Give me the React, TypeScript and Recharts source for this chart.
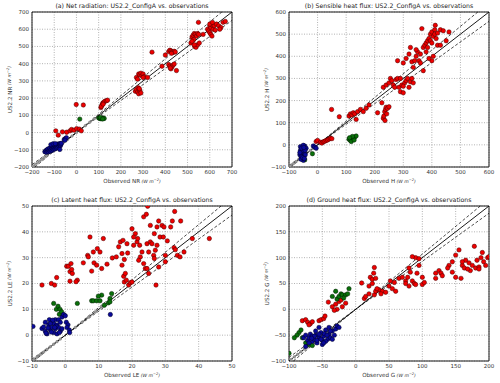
import React from 'react';
import { ScatterChart, Scatter, XAxis, YAxis, CartesianGrid, ReferenceLine, ReferenceArea } from 'recharts';

type P = [number, number];

// ---- ticks ----
const aTicks = [-200, -100, 0, 100, 200, 300, 400, 500, 600, 700];
const bTicks = [-100, 0, 100, 200, 300, 400, 500, 600];
const cTicks = [-10, 0, 10, 20, 30, 40, 50];
const dTicks = [-100, -50, 0, 50, 100, 150, 200];

// ---- (a) Net radiation ----
const aRed: P[] = [
  [-93, 10], [-82, -15], [-63, 4], [-44, 2], [-29, 10], [-22, 18], [-11, 14], [1, 23], [13, 20], [22, 10],
  [-1, 163], [31, 160],
  [110, 145], [115, 160], [118, 170], [122, 175], [128, 182], [135, 185], [140, 188], [112, 152], [120, 165],
  [265, 240], [270, 250], [275, 235], [280, 225], [285, 245], [278, 260], [290, 230], [283, 255],
  [270, 320], [280, 340], [285, 335], [290, 345], [295, 330], [300, 340], [305, 325], [275, 310], [300, 320], [320, 320],
  [340, 467], [385, 385], [400, 450],
  [415, 470], [420, 478], [425, 475], [430, 470], [435, 465], [440, 472], [428, 460], [445, 468],
  [415, 395], [420, 385], [425, 370], [430, 380], [435, 392], [440, 398], [450, 360], [422, 375],
  [515, 520], [520, 555], [525, 565], [530, 575], [535, 570], [540, 560], [545, 575], [550, 570], [528, 540],
  [532, 500], [538, 495], [545, 510], [553, 520], [530, 510], [520, 530],
  [549, 640], [570, 570],
  [590, 600], [595, 590], [600, 620], [605, 610], [610, 625], [615, 600], [600, 580], [605, 570], [610, 560],
  [620, 620], [630, 630], [640, 620], [650, 610], [660, 640], [670, 645], [645, 600], [625, 595], [600, 630], [612, 640],
];
const aGreen: P[] = [
  [-140, -110], [-135, -106], [15, 78],
  [100, 85], [105, 82], [110, 80], [115, 83], [120, 85], [125, 82], [108, 88], [118, 79],
];
const aBlue: P[] = [
  [-142, -112], [-138, -105], [-135, -115], [-132, -100], [-130, -108], [-128, -95], [-125, -112], [-122, -102],
  [-120, -90], [-118, -108], [-115, -98], [-112, -85], [-110, -104], [-108, -92], [-105, -80], [-103, -98],
  [-100, -88], [-98, -75], [-96, -95], [-94, -82], [-92, -70], [-90, -90], [-88, -78], [-86, -68], [-84, -86],
  [-82, -74], [-80, -66], [-78, -80], [-76, -70], [-74, -64], [-72, -76], [-70, -68], [-68, -62], [-115, -70],
  [-105, -65], [-95, -64], [-55, -40], [-50, -35], [-45, -30], [-52, -45], [-75, -98],
];
const aGray: P[] = [
  [-195, -195], [-185, -185], [-175, -175], [-165, -165], [-155, -155], [-145, -145], [-135, -135],
  [-60, -60], [-40, -40], [-20, -20], [0, 0], [20, 20], [40, 40], [60, 60], [80, 80],
];

// ---- (b) Sensible heat flux ----
const bRed: P[] = [
  [-5, 15], [0, 20], [10, 12], [15, 8], [20, 14], [25, 16], [30, 20], [35, 22], [40, 26], [45, 30], [50, 28],
  [49, 160], [76, 127],
  [110, 130], [115, 140], [120, 135], [125, 145], [130, 140], [135, 115], [140, 150], [150, 160], [160, 150],
  [170, 165], [180, 180], [210, 145],
  [230, 120], [232, 130], [235, 150], [238, 160], [240, 170], [245, 165], [250, 172], [242, 140], [236, 110], [225, 190],
  [230, 260], [240, 270], [250, 280], [255, 300], [260, 290], [265, 270], [270, 260], [275, 295], [280, 300],
  [285, 260], [290, 240], [295, 270], [300, 235], [305, 280], [310, 290], [315, 300], [320, 260], [325, 285],
  [330, 300], [335, 280], [300, 265], [290, 300],
  [280, 380], [300, 370], [310, 390], [320, 410], [330, 375], [340, 380], [345, 400], [350, 420], [355, 380],
  [360, 410], [365, 525], [370, 440], [375, 450], [380, 460], [385, 470], [390, 480], [395, 500], [400, 510],
  [405, 490], [410, 520], [412, 540], [415, 480], [420, 450], [395, 470], [380, 420], [385, 440], [400, 380],
  [405, 400], [390, 390], [370, 335], [430, 520], [440, 515], [460, 510], [450, 470], [430, 450], [410, 500],
  [400, 460], [420, 505], [360, 370], [345, 430], [325, 440], [335, 350],
];
const bGreen: P[] = [
  [110, 25], [115, 20], [120, 30], [125, 28], [130, 35], [135, 40], [118, 15], [128, 22], [122, 38], [112, 32],
  [-18, -40], [-45, -68],
];
const bBlue: P[] = [
  [-55, -10], [-50, -20], [-58, -30], [-52, -40], [-48, -50], [-55, -60], [-45, -5], [-60, -25], [-40, -15],
  [-50, -70], [-62, -45], [-57, -55], [-47, -35], [-53, -25], [-43, -45], [-60, -8], [-50, -2], [-56, -15],
  [-44, -25], [-58, -65], [-52, -58], [-46, -62], [-62, -35], [-48, -12], [-15, -5], [-10, -10], [-5, -15],
];
const bGray: P[] = [
  [-95, -95], [-85, -85], [-75, -75], [-65, -65], [-25, -25], [-15, -15],
];

// ---- (c) Latent heat flux ----
const cRed: P[] = [
  [-7, 19.4], [-4.2, 20], [-3.2, 19.4], [-2.6, 22.3],
  [0.4, 26.7], [0.9, 26.7], [1.4, 24.6], [1.9, 25.4], [1.7, 27.7], [2.1, 23.9], [1.4, 20.9], [3.6, 21.3], [3.2, 20.7],
  [5.4, 28], [6.7, 30.9], [6.9, 30.3], [7.4, 38], [7.9, 24.8], [8.6, 28], [8.4, 32.2], [9.4, 27.1], [9.6, 33.5],
  [10.4, 32.2], [10.9, 25.8], [11.4, 37.4], [12.5, 27.5], [14.1, 29.9], [15.3, 30.3], [16, 34.2], [16.5, 36.1],
  [17, 27.1], [17.3, 36.7], [17, 31.6], [17.7, 29.3], [17.5, 22.8], [18, 23.9], [17.7, 20.6], [18.3, 21.3],
  [18.5, 35.4], [18.7, 31.8], [19, 19.4], [19.5, 20.3], [20, 20.6], [20.5, 34.8], [21, 39.3], [20, 41.2],
  [21.5, 36.1], [21.7, 37.4], [22.3, 34.8], [22.5, 30.3], [23, 32.2], [23.5, 27.7], [24, 25.8], [24.5, 25.8],
  [23.5, 45.8], [24.5, 35.4], [25, 32.2], [25, 23.9], [24.3, 46.8], [25.5, 36.1], [26, 35.4], [26.5, 30.9],
  [26.7, 29.7], [27, 32.9], [27.5, 34.8], [28, 26.4], [27.2, 19.4], [27.5, 41.9], [28, 44.2], [28.4, 38],
  [29, 42.5], [29.4, 38], [29.6, 41.9], [30, 30.9], [30, 28.4], [30.6, 36.5], [31.6, 41.9], [32.1, 44.2],
  [32.6, 33.9], [32.8, 47.9], [33, 33.1], [33.6, 30.9], [34.6, 44.2], [34.4, 30.3], [35.6, 32.2], [38.1, 37.4],
  [43.2, 37.4], [24.7, 49.9], [25.5, 42.5], [26.7, 39.3], [22, 29], [20.5, 38],
];
const cGreen: P[] = [
  [-3.5, 12.3], [-2.7, 10], [-2.2, 11.2], [-1.6, 10], [-1.8, 8.1], [-1.1, 9], [-0.6, 7.8], [3.6, 12.3],
  [7.9, 13.3], [8.4, 13.3], [9.4, 13.3], [10.4, 13.3], [10.9, 15.5], [9.9, 15.1], [11.7, 11.6], [12.9, 12.5],
  [13.4, 14.2], [13.9, 16.1], [13.4, 12.9],
];
const cBlue: P[] = [
  [-9.7, 3.4], [-7, 2.6], [-6.5, 3.2], [-6, 1.5], [-5.5, 0.5], [-5, 4], [-4.8, 6], [-4.5, 2], [-4, 5], [-4, 3],
  [-3.5, 1], [-3.5, 4.5], [-3, 6], [-3, 2.5], [-2.5, 0.5], [-2.5, 4], [-2, 3], [-2, 6], [-1.5, 1.5], [-1.5, 5],
  [-1, 2.5], [-1, 7], [-0.5, 8], [0, 7.5], [0.3, 5], [0.8, 4], [0.5, 3], [1.2, 2], [1.3, 1], [-5.2, 2.8],
  [-4.2, 1.2], [-3.8, 5.8], [-2.8, 3.5], [-6, 5], [-5.8, 0.8], [-4.5, 4.5], [-3.2, 3], [-1.8, 1], [13.5, 8],
];
const cGray: P[] = [
  [-9.5, -9.5], [-8.5, -8.5], [-7.5, -7.5], [-6.5, -6.5], [-5.5, -5.5], [-4.5, -4.5], [-3.5, -3.5],
  [-2.5, -2.5], [-1.5, -1.5], [1, 1], [3, 3], [5, 5], [7, 7], [9, 9], [11, 11],
];

// ---- (d) Ground heat flux ----
const dRed: P[] = [
  [-80, -22], [-75, -20], [-72, -25], [-68, -28], [-65, -24], [-55, -22], [-52, -20], [-48, -18], [-70, -30],
  [-46, -13], [-41, 14], [-35, 5], [-30, 10], [-28, 0], [-25, 15], [-20, 5], [-15, 12], [-32, -2], [-22, 18],
  [9, 51], [13, 21], [15, 25], [20, 45], [22, 62], [25, 58], [27, 70], [28, 81], [30, 60], [25, 50], [20, 30],
  [28, 28], [30, 35], [35, 38], [40, 35], [45, 33], [38, 30], [32, 40], [50, 45], [52, 55], [55, 40], [60, 35],
  [58, 52], [65, 60], [70, 62], [75, 55], [78, 62], [80, 80], [82, 72], [85, 55], [88, 50], [90, 48], [80, 45],
  [75, 50], [90, 100], [95, 85], [100, 62], [100, 48], [103, 52], [85, 102], [95, 98], [92, 70], [120, 60],
  [120, 70], [125, 75], [128, 70], [130, 65], [140, 85], [145, 72], [150, 105], [150, 62], [155, 115], [158, 60],
  [160, 85], [163, 80], [165, 95], [170, 90], [172, 75], [175, 85], [178, 122], [180, 80], [182, 95], [185, 82],
  [188, 100], [190, 110], [192, 92], [195, 85], [198, 100], [200, 102], [185, 78], [168, 78], [160, 92],
  [145, 92], [138, 80],
];
const dGreen: P[] = [
  [-85, -45], [-88, -50], [-92, -55], [-80, -55], [-82, -40], [-75, -65], [-70, -68], [-65, -70], [-100, -85],
  [-35, 25], [-30, 35], [-28, 20], [-25, 25], [-22, 30], [-20, 28], [-15, 28], [-12, 30], [-10, 40], [-18, 22],
];
const dBlue: P[] = [
  [-78, -55], [-75, -50], [-72, -60], [-70, -55], [-68, -48], [-65, -62], [-62, -58], [-60, -50], [-58, -65],
  [-55, -55], [-52, -45], [-50, -60], [-48, -52], [-45, -40], [-42, -58], [-40, -48], [-38, -55], [-35, -42],
  [-32, -50], [-30, -38], [-28, -32], [-25, -35], [-60, -42], [-55, -35], [-50, -68], [-65, -52], [-70, -65],
  [-58, -60], [-45, -62], [-40, -35], [-35, -58], [-52, -58], [-47, -47], [-43, -50], [-38, -42], [-55, -48],
  [-62, -52], [-75, -72], [-66, -56], [-48, -65],
];
const dGray: P[] = [
  [-97, -97], [-92, -92], [-87, -87], [-82, -82], [-77, -77], [-72, -72], [-67, -67], [-62, -62],
];

const FONT = '"DejaVu Sans", sans-serif';
const fmt = (v: number) => (v < 0 ? '\u2212' + Math.abs(v) : String(v));
const toPts = (arr: P[]) => arr.map(([x, y]) => ({ x, y }));

const makeDot = (fill: string, r: number, stroke: string) => (props: any) => {
  const { cx, cy } = props;
  if (cx == null || cy == null) return <g />;
  return <circle cx={cx} cy={cy} r={r} fill={fill} stroke={stroke} strokeWidth={0.5} />;
};
const redDot = makeDot('#ee0000', 2.2, '#400');
const greenDot = makeDot('#0a700a', 2.2, '#001a00');
const blueDot = makeDot('#0a0a9a', 2.2, '#000020');
const grayDot = makeDot('#9a9a9a', 1.3, '#808080');

type PanelProps = {
  left: number; top: number; title: string; xName: string; yName: string;
  domain: [number, number]; ticks: number[]; red: P[]; green: P[]; blue: P[]; gray: P[];
};

function Panel({ left, top, title, xName, yName, domain, ticks, red, green, blue, gray }: PanelProps) {
  const [lo, hi] = domain;
  const k1 = 1.07;
  const k2 = 0.93;
  const units = (
    <tspan fontSize={4.6} fontStyle="italic">{' (W m'}<tspan baselineShift="super" fontSize={3.5}>{'\u22122'}</tspan>{')'}</tspan>
  );
  return (
    <div style={{ position: 'absolute', left, top, width: 250, height: 192 }}>
      <div style={{ position: 'absolute', left: 32, top: 2, width: 200, textAlign: 'center', fontFamily: FONT, fontSize: 6.2, color: '#222', lineHeight: '8px', whiteSpace: 'nowrap' }}>
        {title}
      </div>
      <ScatterChart width={250} height={192} margin={{ top: 12, right: 18, left: 0, bottom: 0 }}>
        <CartesianGrid stroke="#808080" strokeDasharray="1 1.5" strokeWidth={0.6} />
        <XAxis
          type="number" dataKey="x" domain={domain} ticks={ticks} interval={0} allowDataOverflow
          height={25} axisLine={false} tickLine={false} tickSize={2} tickMargin={1}
          tick={{ fontSize: 5.5, fill: '#333', fontFamily: FONT }} tickFormatter={fmt}
          label={{
            content: (p: any) => {
              const vb = p.viewBox || { x: 32, y: 167, width: 200, height: 25 };
              return (
                <text x={vb.x + vb.width / 2} y={vb.y + 16} textAnchor="middle" fontSize={5.6} fill="#333" fontFamily={FONT}>
                  {xName}{units}
                </text>
              );
            },
          }}
        />
        <YAxis
          type="number" dataKey="y" domain={domain} ticks={ticks} interval={0} allowDataOverflow
          width={32} axisLine={false} tickLine={false} tickSize={1} tickMargin={2}
          tick={{ fontSize: 5.5, fill: '#333', fontFamily: FONT }} tickFormatter={fmt}
          label={{
            content: (p: any) => {
              const vb = p.viewBox || { x: 0, y: 12, width: 32, height: 155 };
              const cx = vb.x + 10;
              const cy = vb.y + vb.height / 2;
              return (
                <text x={cx} y={cy} transform={`rotate(-90 ${cx} ${cy})`} textAnchor="middle" dominantBaseline="middle" fontSize={5.6} fill="#333" fontFamily={FONT}>
                  {yName}{units}
                </text>
              );
            },
          }}
        />
        <Scatter data={toPts(gray)} shape={grayDot} isAnimationActive={false} />
        <Scatter data={toPts(red)} shape={redDot} isAnimationActive={false} />
        <Scatter data={toPts(green)} shape={greenDot} isAnimationActive={false} />
        <Scatter data={toPts(blue)} shape={blueDot} isAnimationActive={false} />
        <ReferenceLine segment={[{ x: lo, y: lo }, { x: hi, y: hi }]} stroke="#000" strokeWidth={0.9} ifOverflow="visible" />
        <ReferenceLine segment={[{ x: lo / k1, y: lo }, { x: hi / k1, y: hi }]} stroke="#000" strokeWidth={0.7} strokeDasharray="3 2" ifOverflow="visible" />
        <ReferenceLine segment={[{ x: lo, y: lo * k2 }, { x: hi, y: hi * k2 }]} stroke="#000" strokeWidth={0.7} strokeDasharray="3 2" ifOverflow="visible" />
        <ReferenceArea x1={lo} x2={hi} y1={lo} y2={hi} fill="none" stroke="#000" strokeWidth={0.9} ifOverflow="visible" />
      </ScatterChart>
    </div>
  );
}

export default function App() {
  return (
    <div style={{ position: 'absolute', left: 0, top: 0, width: 500, height: 383, background: '#fff', overflow: 'hidden' }}>
      <Panel left={0} top={0} title="(a) Net radiation: US2.2_ConfigA vs. observations" xName="Observed NR" yName="US2.2 NR"
        domain={[-200, 700]} ticks={aTicks} red={aRed} green={aGreen} blue={aBlue} gray={aGray} />
      <Panel left={257} top={0} title="(b) Sensible heat flux: US2.2_ConfigA vs. observations" xName="Observed H" yName="US2.2 H"
        domain={[-100, 600]} ticks={bTicks} red={bRed} green={bGreen} blue={bBlue} gray={bGray} />
      <Panel left={0} top={194} title="(c) Latent heat flux: US2.2_ConfigA vs. observations" xName="Observed LE" yName="US2.2 LE"
        domain={[-10, 50]} ticks={cTicks} red={cRed} green={cGreen} blue={cBlue} gray={cGray} />
      <Panel left={257} top={194} title="(d) Ground heat flux: US2.2_ConfigA vs. observations" xName="Observed G" yName="US2.2 G"
        domain={[-100, 200]} ticks={dTicks} red={dRed} green={dGreen} blue={dBlue} gray={dGray} />
    </div>
  );
}
